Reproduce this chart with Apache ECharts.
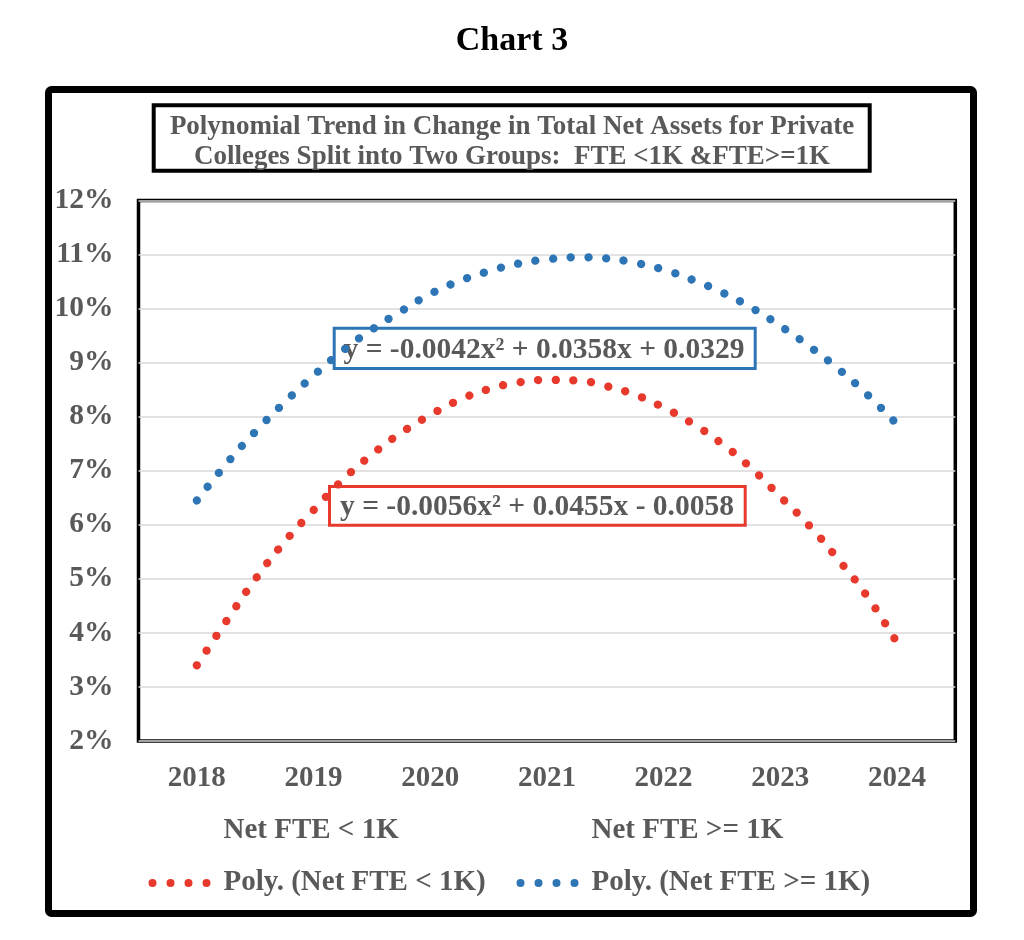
<!DOCTYPE html>
<html>
<head>
<meta charset="utf-8">
<script src="https://cdn.jsdelivr.net/npm/echarts@6/dist/echarts.min.js"></script>
<style>
html,body{margin:0;padding:0;background:#fff;}
#chart{width:1024px;height:940px;}
</style>
</head>
<body>
<div id="chart"></div>
<script>
// ---- data ----
const xPositions = [2018, 2018.25, 2018.5, 2018.75, 2019, 2019.25, 2019.5, 2019.75,
  2020, 2020.25, 2020.5, 2020.75, 2021, 2021.25, 2021.5, 2021.75,
  2022, 2022.25, 2022.5, 2022.75, 2023, 2023.25, 2023.5, 2023.75, 2024];
// Poly. (Net FTE < 1K), percent
const lowFteTrend = [3.40, 4.21, 4.99, 5.68, 6.27, 6.83, 7.30, 7.70,
  8.03, 8.31, 8.51, 8.63, 8.68, 8.67, 8.57, 8.41,
  8.17, 7.87, 7.50, 7.05, 6.52, 5.98, 5.35, 4.66, 3.82];
// Poly. (Net FTE >= 1K), percent
const highFteTrend = [6.45, 7.12, 7.72, 8.26, 8.76, 9.22, 9.61, 9.95,
  10.27, 10.51, 10.69, 10.83, 10.91, 10.95, 10.93, 10.85,
  10.72, 10.53, 10.30, 10.02, 9.68, 9.30, 8.88, 8.40, 7.86];
const seriesNames = ['Net FTE < 1K', 'Net FTE >= 1K', 'Poly. (Net FTE < 1K)', 'Poly. (Net FTE >= 1K)'];
const equationLow = 'y = -0.0056x\u00B2 + 0.0455x - 0.0058';
const equationHigh = 'y = -0.0042x\u00B2 + 0.0358x + 0.0329';
const chartLabel = 'Chart 3';
const titleLines = ['Polynomial Trend in Change in Total Net Assets for Private',
  'Colleges Split into Two Groups:  FTE <1K &FTE>=1K'];

// ---- styling ----
const FONT = '"Liberation Serif", "Times New Roman", serif';
const GRAY = '#595959';
const RED = '#E8392D';
const BLUE = '#2E75B6';
const dotsIcon = 'path://M0,4a4,4 0 1,0 8,0a4,4 0 1,0 -8,0M18,4a4,4 0 1,0 8,0a4,4 0 1,0 -8,0M36,4a4,4 0 1,0 8,0a4,4 0 1,0 -8,0M54,4a4,4 0 1,0 8,0a4,4 0 1,0 -8,0';

function zip(xs, ys) { return xs.map((x, i) => [x, ys[i]]); }

const chart = echarts.init(document.getElementById('chart'), null, {renderer: 'canvas'});

const dotLine = (color) => ({
  color: color, width: 8.3, type: [0.1, 17.6], cap: 'round'
});

const legendCommon = {
  orient: 'vertical',
  top: 816,
  padding: 0,
  itemGap: 22,
  itemWidth: 62,
  itemHeight: 8,
  textStyle: {fontFamily: FONT, fontWeight: 'bold', fontSize: 29, color: GRAY, lineHeight: 30, padding: [0, 0, 0, 8]},
  selectedMode: false
};

chart.setOption({
  animation: false,
  backgroundColor: '#fff',
  grid: {left: 138.5, right: 68.7, top: 200.5, bottom: 199, show: true, borderColor: '#000', borderWidth: 3.5, containLabel: false},
  xAxis: {
    type: 'value', min: 2017.5, max: 2024.5, interval: 0.5,
    axisLine: {show: false}, axisTick: {show: false}, splitLine: {show: false},
    axisLabel: {
      margin: 23, fontFamily: FONT, fontWeight: 'bold', fontSize: 29, color: GRAY,
      formatter: v => Number.isInteger(v) ? String(v) : ''
    }
  },
  yAxis: {
    type: 'value', min: 2, max: 12, interval: 1,
    axisLine: {show: false}, axisTick: {show: false},
    splitLine: {lineStyle: {color: '#D9D9D9', width: 1.5}},
    axisLabel: {margin: 25, fontFamily: FONT, fontWeight: 'bold', fontSize: 29.5, color: GRAY, formatter: '{value}%'}
  },
  legend: [
    Object.assign({}, legendCommon, {left: 148.5, data: [
      {name: seriesNames[0], icon: 'none'},
      {name: seriesNames[2], icon: dotsIcon}
    ]}),
    Object.assign({}, legendCommon, {left: 516.5, data: [
      {name: seriesNames[1], icon: 'none'},
      {name: seriesNames[3], icon: dotsIcon}
    ]})
  ],
  series: [
    {name: seriesNames[0], type: 'line', data: [], itemStyle: {color: RED}},
    {name: seriesNames[1], type: 'line', data: [], itemStyle: {color: BLUE}},
    {name: seriesNames[2], type: 'line', z: 5, smooth: true, showSymbol: false, symbol: 'none',
      itemStyle: {color: RED}, lineStyle: dotLine(RED), data: zip(xPositions, lowFteTrend)},
    {name: seriesNames[3], type: 'line', z: 5, smooth: true, showSymbol: false, symbol: 'none',
      itemStyle: {color: BLUE}, lineStyle: dotLine(BLUE), data: zip(xPositions, highFteTrend)}
  ],
  graphic: [
    {type: 'rect', z: 0, shape: {x: 48.5, y: 89.5, width: 925, height: 824, r: 3},
      style: {fill: 'none', stroke: '#000', lineWidth: 7}},
    {type: 'text', z: 1, x: 512, y: 41, style: {text: chartLabel, fill: '#000',
      font: 'bold 34px ' + FONT, textAlign: 'center', textVerticalAlign: 'middle'}},
    {type: 'rect', z: 1, shape: {x: 153.7, y: 105.3, width: 716, height: 65.4},
      style: {fill: '#fff', stroke: '#000', lineWidth: 4}},
    {type: 'text', z: 2, x: 512, y: 142, style: {text: titleLines.join('\n'), fill: GRAY,
      font: 'bold 27px ' + FONT, lineHeight: 30, textAlign: 'center', textVerticalAlign: 'middle'}},
    {type: 'rect', z: 1, shape: {x: 334.2, y: 328.2, width: 421, height: 40.3},
      style: {fill: '#fff', stroke: BLUE, lineWidth: 3}},
    {type: 'text', z: 2, x: 544, y: 350, style: {text: equationHigh, fill: GRAY,
      font: 'bold 29.5px ' + FONT, textAlign: 'center', textVerticalAlign: 'middle'}},
    {type: 'rect', z: 1, shape: {x: 329.5, y: 486.5, width: 415.7, height: 38.7},
      style: {fill: '#fff', stroke: RED, lineWidth: 3}},
    {type: 'text', z: 2, x: 537, y: 507.5, style: {text: equationLow, fill: GRAY,
      font: 'bold 29.5px ' + FONT, textAlign: 'center', textVerticalAlign: 'middle'}}
  ]
});
</script>
</body>
</html>
